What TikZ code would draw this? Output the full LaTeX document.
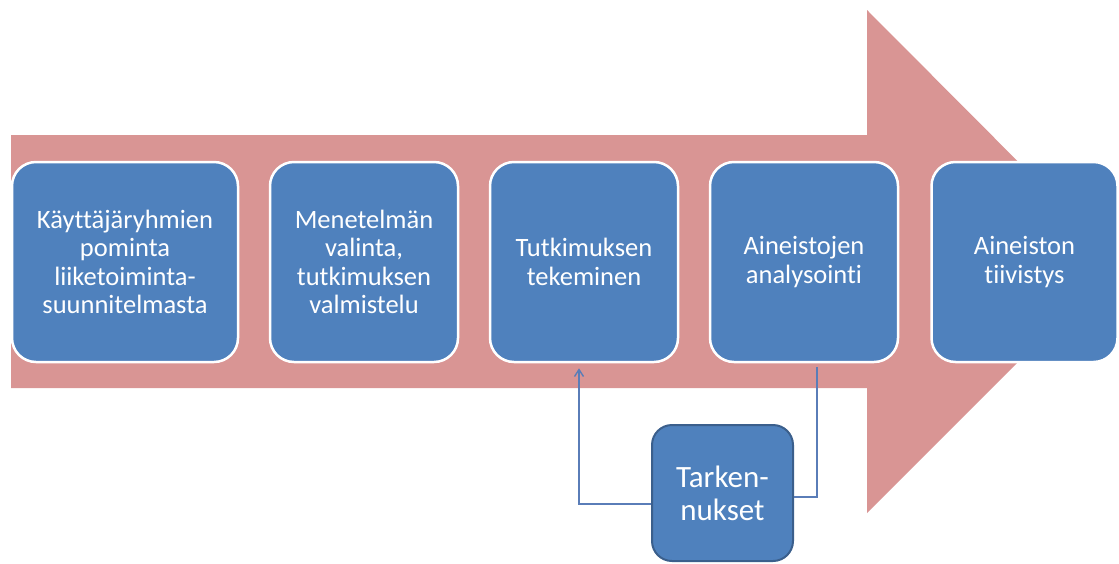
\documentclass[tikz,border=0pt]{standalone}
\usepackage{fontspec}
\setmainfont[Ligatures={NoCommon}]{Carlito}
\usetikzlibrary{arrows.meta}
\definecolor{arrowpink}{HTML}{D99594}
\definecolor{boxblue}{HTML}{4F81BD}
\definecolor{boxdark}{HTML}{3B5F8C}
\definecolor{linkblue}{HTML}{5A7DB8}
\tikzset{
  stepbox/.style={draw=white, line width=2.5pt, fill=boxblue, rounded corners=24pt,
    minimum height=200pt, inner sep=0pt, align=center, text=white,
    font=\fontsize{26.5}{28.5}\selectfont},
  notebox/.style={draw=boxdark, line width=2pt, fill=boxblue, rounded corners=20pt,
    minimum width=141pt, minimum height=136pt, inner sep=0pt, align=center, text=white,
    font=\fontsize{31}{33}\selectfont},
  link/.style={draw=linkblue, line width=1.4pt},
}
\begin{document}
\begin{tikzpicture}[x=1pt,y=-1pt]
\useasboundingbox (0,0) rectangle (1119,563);
% big process arrow
\fill[arrowpink] (11,135) -- (867,135) -- (867,10) -- (1118,262) -- (867,513) -- (867,388) -- (11,388) -- cycle;
% steps
\node[stepbox, minimum width=226pt] (b1) at (125,262) {Käyttäjäryhmien\\pominta\\liiketoiminta-\\suunnitelmasta};
\node[stepbox, minimum width=188pt] (b2) at (364,262) {Menetelmän\\valinta,\\tutkimuksen\\valmistelu};
\node[stepbox, minimum width=188pt] (b3) at (584,262) {Tutkimuksen\\tekeminen};
\node[stepbox, minimum width=188pt] (b4) at (804,262) {Aineistojen\\analysointi};
\node[stepbox, minimum width=186pt] (b5) at (1024.5,262) {Aineiston\\tiivistys};
% refinement box
\node[notebox] (tk) at (722.5,493) {Tarken-\\nukset};
% feedback loop
\draw[link] ([xshift=13pt,yshift=-4pt]b4.south) |- ([yshift=-4pt]tk.east);
\draw[link, -{Straight Barb[length=7pt,width=9pt]}] ([yshift=-11pt]tk.west) -| ([xshift=-5pt,yshift=-5pt]b3.south);
\end{tikzpicture}
\end{document}
